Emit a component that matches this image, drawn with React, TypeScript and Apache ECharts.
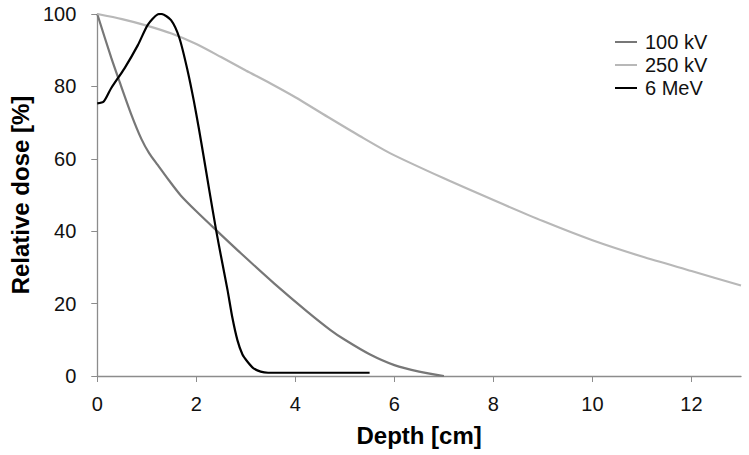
import React, { useEffect, useRef } from "react";
import * as echarts from "echarts";

const seriesNames = ["100 kV", "250 kV", "6 MeV"];
const seriesColors = ["#777777", "#b8b8b8", "#000000"];

const depth100kV = [0, 0.28, 0.45, 0.68, 0.89, 1.05, 1.22, 1.45, 1.69, 2.0, 2.4, 2.9, 3.57, 4.24, 4.71, 5.0, 5.5, 6.0, 6.5, 7.0];
const dose100kV = [100, 88, 81.3, 72.5, 65.5, 61.5, 58.3, 54, 49.8, 45.5, 40.3, 33.9, 25.6, 17.8, 12.7, 10, 6, 3, 1.2, 0];

const depth250kV = [0, 0.5, 1.0, 1.5, 2.0, 2.5, 3.0, 3.5, 4.0, 4.65, 5.3, 5.92, 7, 8, 9, 10, 11, 12, 13];
const dose250kV = [100, 98.6, 96.8, 94.6, 91.7, 88.1, 84.4, 80.8, 77, 71.6, 66.3, 61.5, 54.6, 48.6, 42.8, 37.5, 33, 29, 25];

const depth6MeV = [0, 0.13, 0.28, 0.55, 0.82, 1.02, 1.22, 1.29, 1.49, 1.66, 1.83, 1.95, 2.05, 2.15, 2.26, 2.4, 2.5, 2.63, 2.73, 2.83, 2.93, 3.03, 3.15, 3.3, 3.45, 4.5, 5.5];
const dose6MeV = [75.3, 75.8, 79.5, 85, 91.4, 97, 99.9, 100, 98.3, 93.3, 84, 76, 68.5, 60.5, 51.5, 40.3, 33, 23.8, 16, 9.9, 6, 4, 2.2, 1.2, 0.9, 0.9, 0.9];

const xTicks = [0, 2, 4, 6, 8, 10, 12];
const yTicks = [0, 20, 40, 60, 80, 100];

const zip = (xs: number[], ys: number[]) => xs.map((x, i) => [x, ys[i]]);

export default function App() {
  const ref = useRef<HTMLDivElement>(null);
  useEffect(() => {
    if (!ref.current) return;
    const chart = echarts.init(ref.current, null, { renderer: "svg" });
    const font = "'Liberation Sans', Arial, sans-serif";
    const data = [zip(depth100kV, dose100kV), zip(depth250kV, dose250kV), zip(depth6MeV, dose6MeV)];
    chart.setOption({
      animation: false,
      backgroundColor: "#ffffff",
      textStyle: { fontFamily: font },
      grid: { left: 96, right: 8, top: 14, bottom: 79, containLabel: false },
      legend: {
        orient: "vertical",
        left: 610,
        top: 27,
        icon: "rect",
        itemWidth: 22,
        itemHeight: 2,
        itemGap: 3,
        textStyle: { fontSize: 20, color: "#111", fontFamily: font, padding: [0, 0, 0, 3] },
        data: seriesNames,
      },
      xAxis: {
        type: "value",
        min: 0,
        max: 13,
        interval: 2,
        name: "Depth [cm]",
        nameLocation: "middle",
        nameGap: 47,
        nameTextStyle: { fontSize: 24, fontWeight: "bold", color: "#000", fontFamily: font },
        axisLine: { lineStyle: { color: "#8c8c8c", width: 1.3 } },
        axisTick: { show: true, length: 6, lineStyle: { color: "#8c8c8c" }, customValues: xTicks },
        axisLabel: { fontSize: 20, color: "#111", margin: 18, customValues: xTicks },
        splitLine: { show: false },
      },
      yAxis: {
        type: "value",
        min: 0,
        max: 100,
        interval: 20,
        name: "Relative dose [%]",
        nameLocation: "middle",
        nameGap: 58,
        nameTextStyle: { fontSize: 24, fontWeight: "bold", color: "#000", fontFamily: font },
        axisLine: { show: true, lineStyle: { color: "#8c8c8c", width: 1.3 } },
        axisTick: { show: true, length: 6, lineStyle: { color: "#8c8c8c" }, customValues: yTicks },
        axisLabel: { fontSize: 20, color: "#111", margin: 21, customValues: yTicks },
        splitLine: { show: false },
      },
      series: seriesNames.map((name, i) => ({
        name,
        type: "line",
        data: data[i],
        symbol: "none",
        smooth: 0.25,
        lineStyle: { color: seriesColors[i], width: 2.2 },
        itemStyle: { color: seriesColors[i] },
        z: i === 2 ? 3 : 2,
      })),
    });
    return () => chart.dispose();
  }, []);
  return <div ref={ref} style={{ position: "absolute", left: 0, top: 0, width: 749, height: 455 }} />;
}
